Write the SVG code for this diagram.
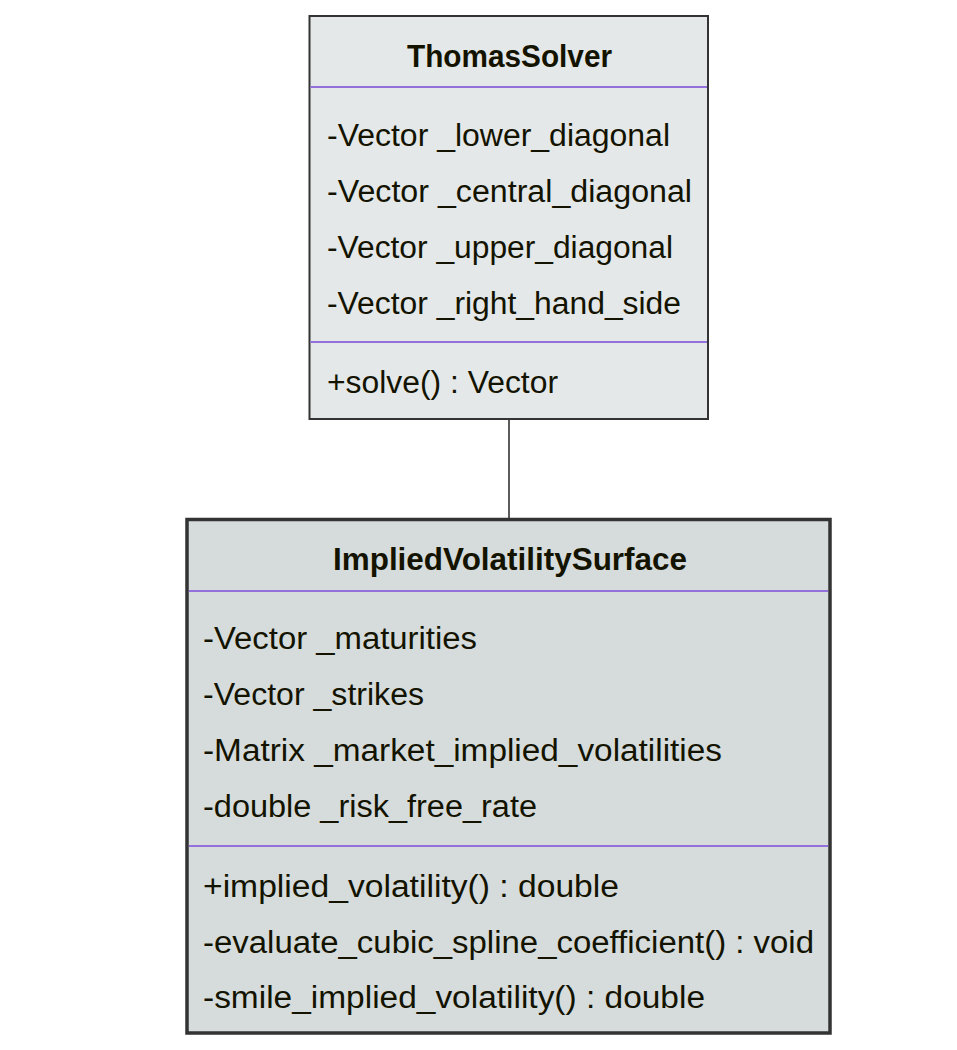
<svg xmlns="http://www.w3.org/2000/svg" width="957" height="1050" viewBox="0 0 957 1050">
<style>
.t{font-family:"Liberation Sans",Arial,sans-serif;font-size:31px;fill:#131300}
.b{font-weight:bold;text-anchor:middle}
.div{stroke:#9370DB;stroke-width:2}
.edge{stroke:#333;stroke-width:1.6;fill:none}
</style>
<rect width="957" height="1050" fill="#ffffff"/>
<g id="connectors">
<line class="edge" x1="509" y1="420" x2="509" y2="518"/>
</g>
<g id="ThomasSolver">
<rect x="309.5" y="16" width="398.5" height="403" fill="#e4e8e9" stroke="#333" stroke-width="2"/>
<line class="div" x1="310.5" y1="87" x2="707" y2="87"/>
<line class="div" x1="310.5" y1="342" x2="707" y2="342"/>
<text class="t b" x="509.5" y="67" textLength="205" lengthAdjust="spacingAndGlyphs">ThomasSolver</text>
<text class="t" x="327" y="146" textLength="343" lengthAdjust="spacingAndGlyphs">-Vector _lower_diagonal</text>
<text class="t" x="327" y="202" textLength="365" lengthAdjust="spacingAndGlyphs">-Vector _central_diagonal</text>
<text class="t" x="327" y="258" textLength="346" lengthAdjust="spacingAndGlyphs">-Vector _upper_diagonal</text>
<text class="t" x="327" y="314" textLength="354" lengthAdjust="spacingAndGlyphs">-Vector _right_hand_side</text>
<text class="t" x="327" y="393" textLength="231" lengthAdjust="spacingAndGlyphs">+solve() : Vector</text>
</g>
<g id="ImpliedVolatilitySurface">
<rect x="187" y="519.5" width="643" height="513.5" fill="#d6dcdc" stroke="#333" stroke-width="3.5"/>
<line class="div" x1="189" y1="591" x2="828" y2="591"/>
<line class="div" x1="189" y1="846" x2="828" y2="846"/>
<text class="t b" x="510" y="570" textLength="354" lengthAdjust="spacingAndGlyphs">ImpliedVolatilitySurface</text>
<text class="t" x="203" y="649" textLength="274" lengthAdjust="spacingAndGlyphs">-Vector _maturities</text>
<text class="t" x="203" y="705" textLength="221" lengthAdjust="spacingAndGlyphs">-Vector _strikes</text>
<text class="t" x="203" y="761" textLength="519" lengthAdjust="spacingAndGlyphs">-Matrix _market_implied_volatilities</text>
<text class="t" x="203" y="817" textLength="334" lengthAdjust="spacingAndGlyphs">-double _risk_free_rate</text>
<text class="t" x="203" y="897" textLength="416" lengthAdjust="spacingAndGlyphs">+implied_volatility() : double</text>
<text class="t" x="203" y="953" textLength="611" lengthAdjust="spacingAndGlyphs">-evaluate_cubic_spline_coefficient() : void</text>
<text class="t" x="203" y="1008" textLength="502" lengthAdjust="spacingAndGlyphs">-smile_implied_volatility() : double</text>
</g>
</svg>
